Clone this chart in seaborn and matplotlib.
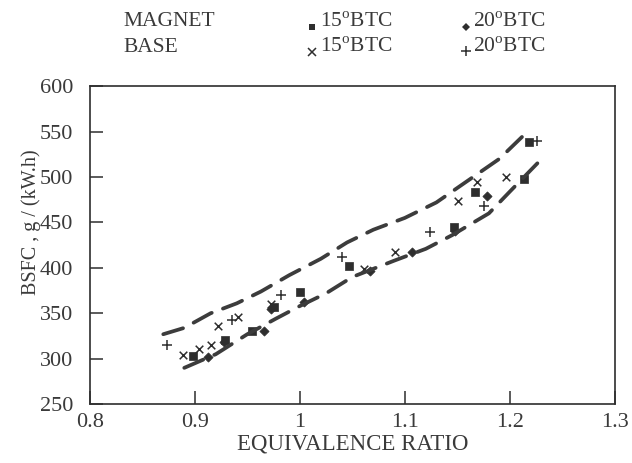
import numpy as np
import pandas as pd
import matplotlib
matplotlib.use("Agg")
import matplotlib.pyplot as plt
from matplotlib.lines import Line2D
import seaborn as sns

# ---- data ----
mag15_x = [0.898, 0.929, 0.954, 0.975, 1.000, 1.047, 1.147, 1.167, 1.213, 1.218]
mag15_y = [303, 321, 331, 357, 373, 402, 445, 483, 498, 538]
mag20_x = [0.913, 0.928, 0.966, 0.973, 1.004, 1.067, 1.107, 1.148, 1.178]
mag20_y = [302, 318, 331, 355, 362, 397, 417, 441, 479]
base15_x = [0.889, 0.904, 0.915, 0.922, 0.941, 0.973, 1.061, 1.091, 1.151, 1.169, 1.196]
base15_y = [304, 311, 315, 336, 346, 360, 399, 417, 474, 494, 500]
base20_x = [0.874, 0.935, 0.982, 1.040, 1.124, 1.175, 1.226]
base20_y = [315, 343, 370, 412, 440, 468, 540]

upper_x = [0.870, 0.890, 0.915, 0.940, 0.963, 0.990, 1.020, 1.045, 1.070, 1.100, 1.130, 1.155, 1.190, 1.215]
upper_y = [327, 334, 350, 361, 374, 392, 410, 428, 442, 455, 472, 492, 520, 548]
lower_x = [0.890, 0.920, 0.950, 0.977, 1.000, 1.025, 1.050, 1.090, 1.120, 1.145, 1.180, 1.200, 1.232]
lower_y = [290, 305, 327, 344, 358, 372, 390, 408, 421, 436, 460, 484, 522]

x_ticks = [0.8, 0.9, 1.0, 1.1, 1.2, 1.3]
x_labels = ["0.8", "0.9", "1", "1.1", "1.2", "1.3"]
y_ticks = [250, 300, 350, 400, 450, 500, 550, 600]

# ---- style ----
sns.set_theme(style="ticks")
plt.rcParams["font.family"] = ["Liberation Serif", "DejaVu Serif"]
plt.rcParams["mathtext.fontset"] = "custom"
plt.rcParams["mathtext.rm"] = "Liberation Serif"
ink = "#2e2e2e"
txt = "#3a3a3a"

fig = plt.figure(figsize=(6.32, 4.63), dpi=100)
fig.patch.set_facecolor("white")
ax = fig.add_axes([0.142, 0.127, 0.831, 0.687])
ax.set_facecolor("white")

df_lines = pd.concat([
    pd.DataFrame({"x": upper_x, "y": upper_y, "band": "upper"}),
    pd.DataFrame({"x": lower_x, "y": lower_y, "band": "lower"}),
])
for band in ["upper", "lower"]:
    d = df_lines[df_lines["band"] == band]
    sns.lineplot(data=d, x="x", y="y", ax=ax, sort=False, color="#3c3c3c",
                 lw=2.7, dashes=False, estimator=None)
for l in ax.lines:
    l.set_dashes((5.5, 3.2))
    l.set_dash_capstyle("round")

series = [
    (mag15_x, mag15_y, "s", 30, None),
    (mag20_x, mag20_y, "D", 22, None),
    (base15_x, base15_y, "x", 30, 1.1),
    (base20_x, base20_y, "+", 45, 1.1),
]
for xs, ys, m, s, lw in series:
    kw = dict(marker=m, s=s, color=ink, ax=ax, legend=False)
    if lw is None:
        kw["edgecolor"] = ink
        kw["linewidth"] = 0.5
    else:
        kw["linewidth"] = lw
    sns.scatterplot(x=xs, y=ys, **kw)

ax.set_xlim(0.8, 1.3)
ax.set_ylim(250, 600)
ax.set_xticks(x_ticks)
ax.set_xticklabels(x_labels)
ax.set_yticks(y_ticks)
ax.tick_params(direction="in", length=9.5, width=1.1, color=ink,
               labelsize=16, labelcolor=txt)
ax.tick_params(axis="y", pad=12)
ax.tick_params(axis="x", pad=6)
for sp in ax.spines.values():
    sp.set_visible(True)
    sp.set_color(ink)
    sp.set_linewidth(1.2)

ax.set_xlabel("EQUIVALENCE RATIO", fontsize=16.5, color=txt, labelpad=1.5)
ax.set_ylabel("BSFC , g / (kW.h)", fontsize=14.5, color=txt)
ax.yaxis.label.set_va("center")
ax.yaxis.label.set_ha("center")
ax.yaxis.set_label_coords(-0.112, 0.572)

# ---- legend at top ----
fs = 15.5
fig.text(123 / 632, 1 - 22 / 463, "MAGNET", fontsize=fs, color=txt, va="center", ha="left")
fig.text(123 / 632, 1 - 47 / 463, "BASE", fontsize=fs, color=txt, va="center", ha="left")
leg = [
    (312, 27, "s", 4.5, 0, r"15$^{\mathrm{o}}$BTC", 320, 22),
    (466, 27, "D", 4.0, 0, r"20$^{\mathrm{o}}$BTC", 473, 22),
    (312, 52, "x", 5.5, 1.1, r"15$^{\mathrm{o}}$BTC", 320, 47),
    (466, 51, "+", 7.0, 1.1, r"20$^{\mathrm{o}}$BTC", 473, 47),
]
for mx, my, m, ms, mew, label, tx, ty in leg:
    fig.add_artist(Line2D([mx / 632], [1 - my / 463], marker=m, ms=ms,
                          mew=mew, color=ink, transform=fig.transFigure))
    fig.text(tx / 632, 1 - ty / 463, label, fontsize=fs, color=txt, va="center", ha="left")

fig.savefig("out.png", dpi=100)
